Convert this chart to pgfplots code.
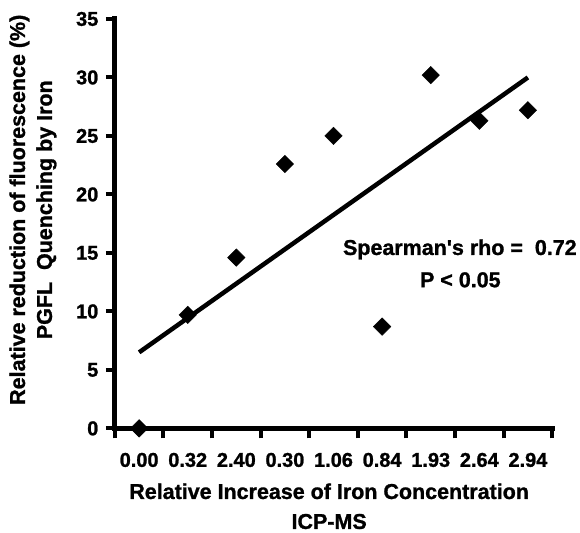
\documentclass[border=0pt]{standalone}
\usepackage{pgfplots}
\pgfplotsset{compat=1.18}
\usepackage{fontspec}
\setmainfont{Liberation Sans}[BoldFeatures={FakeBold=1.2}]

\newcommand{\tkfont}{\bfseries\fontsize{20}{24}\selectfont}
\newcommand{\lbl}{\bfseries\fontsize{21.5}{25}\selectfont}

\begin{document}
\begin{tikzpicture}
\begin{axis}[
    scale only axis,
    width=438pt, height=410pt,
    xmin=-0.5, xmax=8.5,
    ymin=0, ymax=35,
    axis x line*=bottom,
    axis y line*=left,
    axis line style={draw=none},
    tick align=outside,
    tick style={line width=4pt, black},
    major tick style={line width=4pt, black},
    minor tick style={line width=4pt, black},
    major tick length=9pt,
    minor tick length=10pt,
    xtick={0,...,8},
    xticklabels={0.00,0.32,2.40,0.30,1.06,0.84,1.93,2.64,2.94},
    x tick style={draw=none},
    minor xtick={-0.5,0.5,...,8.5},
    minor x tick style={draw=black, line width=4pt},
    ytick={0,5,...,35},
    /pgf/number format/assume math mode=true,
    tick label style={font=\tkfont},
    xticklabel style={yshift=-12pt},
    yticklabel style={xshift=-4pt},
    every axis y label/.style={at={(rel axis cs:0,0.534)}, xshift=-82pt,
        rotate=90, anchor=center, align=center, font=\lbl},
    every axis x label/.style={at={(rel axis cs:0.49,0)}, yshift=-78pt,
        anchor=center, align=center, font=\lbl},
    ylabel={Relative reduction of fluorescence (\%)\\[2pt]PGFL\ \ Quenching by Iron},
    xlabel={Relative Increase of Iron Concentration\\[5pt]ICP-MS},
    clip=false,
]

% axis lines
\draw[line width=5pt, black, line cap=rect] (rel axis cs:0,1) -- (rel axis cs:0,0) -- (rel axis cs:1,0);

% measured values
\addplot[only marks, mark=square*, mark size=6.2pt,
    mark options={rotate=45, fill=black, draw=black}] coordinates {
(0,0) (1,9.7) (2,14.6) (3,22.6) (4,25.0) (5,8.7) (6,30.2) (7,26.3) (8,27.2)
};

% regression line
\addplot[black, line width=4.5pt] coordinates {(0,6.5) (8,30.0)};

\node[font=\lbl] at (axis cs:6.6,15.3) {Spearman\textquotesingle s rho =\ \ 0.72};
\node[font=\lbl] at (axis cs:6.61,12.7) {P < 0.05};

\coordinate (bl) at ([shift={(-115pt,-102pt)}]rel axis cs:0,0);
\coordinate (tr) at ([shift={(27pt,19pt)}]rel axis cs:1,1);
\end{axis}
\path (bl) rectangle (tr);
\end{tikzpicture}
\end{document}
